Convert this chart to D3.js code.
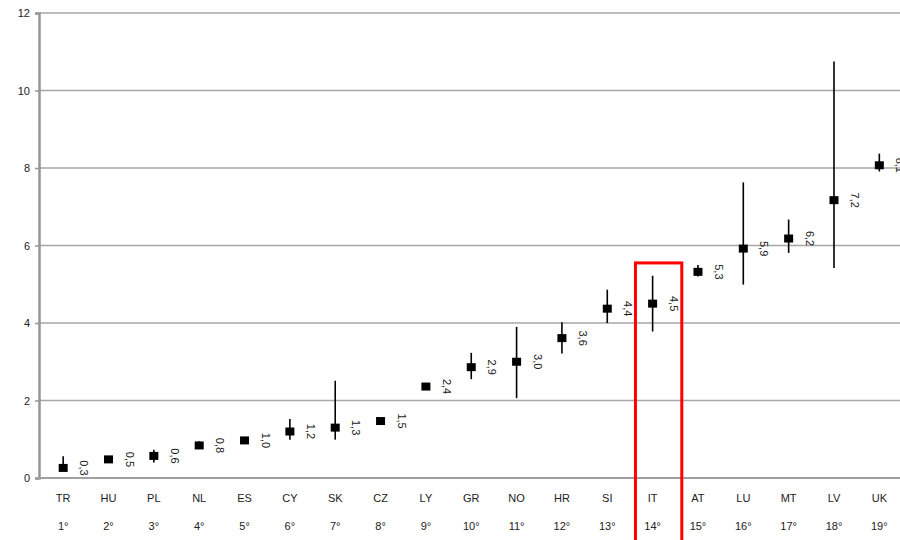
<!DOCTYPE html>
<html>
<head>
<meta charset="utf-8">
<script src="https://cdn.jsdelivr.net/npm/d3@7"></script>
<style>
  body { margin: 0; background: #fff; }
  text { font-family: "Liberation Sans", Arial, sans-serif; }
</style>
</head>
<body>
<div id="chart"></div>
<script>
// Data
const countries = ["TR", "HU", "PL", "NL", "ES", "CY", "SK", "CZ", "LY", "GR",
  "NO", "HR", "SI", "IT", "AT", "LU", "MT", "LV", "UK"];
const ranks = ["1°", "2°", "3°", "4°", "5°", "6°", "7°", "8°", "9°", "10°",
  "11°", "12°", "13°", "14°", "15°", "16°", "17°", "18°", "19°"];
const values = [0.26, 0.48, 0.57, 0.84, 0.97, 1.2, 1.3, 1.47, 2.36, 2.86,
  3.0, 3.61, 4.37, 4.5, 5.32, 5.92, 6.18, 7.17, 8.07];
const labels = ["0,3", "0,5", "0,6", "0,8", "1,0", "1,2", "1,3", "1,5", "2,4", "2,9",
  "3,0", "3,6", "4,4", "4,5", "5,3", "5,9", "6,2", "7,2", "8,1"];
const lows = [0.22, 0.45, 0.4, 0.76, 0.95, 0.99, 0.99, 1.45, 2.33, 2.55,
  2.06, 3.21, 4.0, 3.78, 5.2, 4.99, 5.81, 5.42, 7.91];
const highs = [0.56, 0.52, 0.73, 0.95, 1.0, 1.52, 2.51, 1.5, 2.4, 3.23,
  3.9, 4.02, 4.86, 5.22, 5.5, 7.63, 6.67, 10.75, 8.37];
const yTicks = [0, 2, 4, 6, 8, 10, 12];
const highlight = "IT";
const highlightTop = 5.55;

const width = 900, height = 540;
const margin = { top: 13, bottom: 62, left: 40 };

const svg = d3.select("#chart").append("svg")
  .attr("width", width)
  .attr("height", height);

// last band runs slightly past the right edge, as in the cropped original
const x = d3.scaleBand()
  .domain(countries)
  .range([margin.left + 0.5, width + 2]);

const y = d3.scaleLinear()
  .domain([0, 12])
  .range([height - margin.bottom, margin.top]);

// Gridlines
svg.append("g")
  .selectAll("line")
  .data(yTicks.slice(1))
  .join("line")
  .attr("x1", margin.left)
  .attr("x2", width)
  .attr("y1", d => y(d))
  .attr("y2", d => y(d))
  .attr("stroke", "#a6a6a6")
  .attr("stroke-width", 1.5);

// Y axis
const yAxis = svg.append("g")
  .attr("transform", `translate(${margin.left - 1},0)`)
  .call(d3.axisLeft(y).tickValues(yTicks).tickSize(4).tickPadding(5));
yAxis.select(".domain").attr("stroke", "#969696").attr("stroke-width", 2.5);
yAxis.selectAll(".tick line").attr("stroke", "#969696").attr("stroke-width", 1.5);
yAxis.selectAll("text")
  .attr("fill", "#222")
  .style("font-size", "11px");

// X axis line
svg.append("line")
  .attr("x1", margin.left - 2)
  .attr("x2", width)
  .attr("y1", y(0))
  .attr("y2", y(0))
  .attr("stroke", "#a0a0a0")
  .attr("stroke-width", 2);

const cx = (i) => x(countries[i]) + x.bandwidth() / 2;

// Category labels
svg.append("g")
  .selectAll("text")
  .data(countries)
  .join("text")
  .attr("x", (d, i) => cx(i))
  .attr("y", y(0) + 24)
  .attr("text-anchor", "middle")
  .attr("fill", "#222")
  .style("font-size", "11px")
  .text(d => d);

// Rank labels
svg.append("g")
  .selectAll("text")
  .data(ranks)
  .join("text")
  .attr("x", (d, i) => cx(i))
  .attr("y", y(0) + 52)
  .attr("text-anchor", "middle")
  .attr("fill", "#222")
  .style("font-size", "11px")
  .text(d => d);

// Error bars
svg.append("g")
  .selectAll("line")
  .data(values)
  .join("line")
  .attr("x1", (d, i) => cx(i))
  .attr("x2", (d, i) => cx(i))
  .attr("y1", (d, i) => y(lows[i]))
  .attr("y2", (d, i) => y(highs[i]))
  .attr("stroke", "#000")
  .attr("stroke-width", 1.6);

// Square markers
svg.append("g")
  .selectAll("rect")
  .data(values)
  .join("rect")
  .attr("x", (d, i) => cx(i) - 4.5)
  .attr("y", d => y(d) - 4)
  .attr("width", 9)
  .attr("height", 8)
  .attr("fill", "#000");

// Value labels, rotated
svg.append("g")
  .selectAll("text")
  .data(labels)
  .join("text")
  .attr("transform", (d, i) => `translate(${cx(i) + 17},${y(values[i])}) rotate(90)`)
  .attr("text-anchor", "middle")
  .attr("fill", "#1a1a1a")
  .style("font-size", "11px")
  .text(d => d);

// Highlight box
svg.append("rect")
  .attr("x", x(highlight) + 5.5)
  .attr("y", y(highlightTop))
  .attr("width", x.bandwidth() + 1)
  .attr("height", height - y(highlightTop) + 10)
  .attr("fill", "none")
  .attr("stroke", "#ff0000")
  .attr("stroke-width", 3);
</script>
</body>
</html>
